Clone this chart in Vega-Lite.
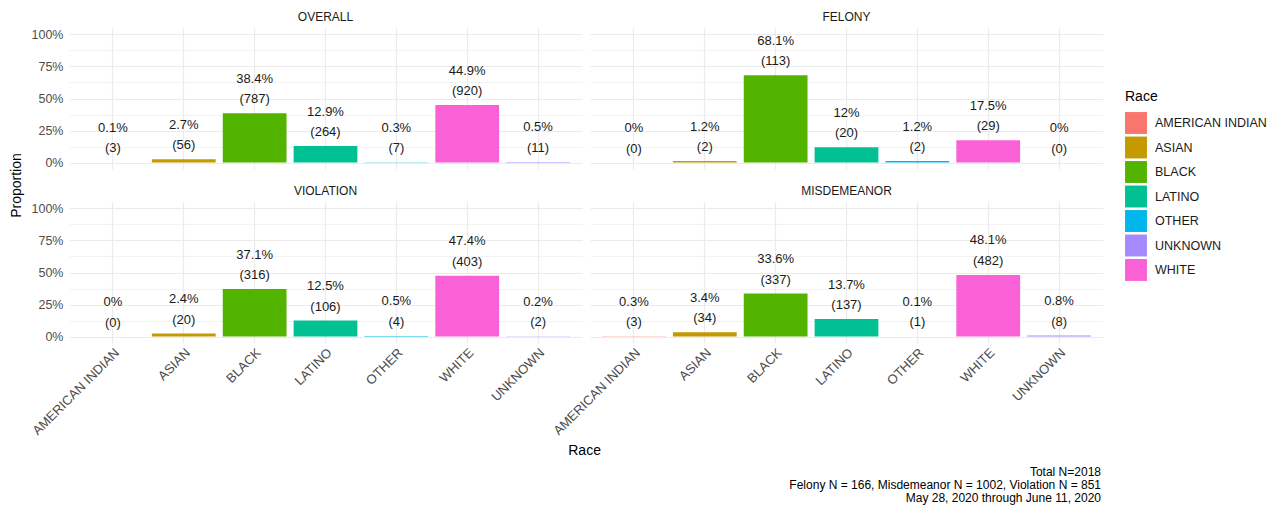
{
  "$schema": "https://vega.github.io/schema/vega-lite/v6.json",
  "background": "white",
  "padding": {"left": 9, "top": 11, "right": 5, "bottom": 5},
  "config": {
    "font": "Liberation Sans",
    "view": {"stroke": null},
    "axis": {"labelFont": "Liberation Sans", "titleFont": "Liberation Sans"},
    "concat": {"spacing": 6}
  },
  "data": {
    "values": [
      {"type": "OVERALL", "race": "AMERICAN INDIAN", "prop": 0.001, "n": 3},
      {"type": "OVERALL", "race": "ASIAN", "prop": 0.027, "n": 56},
      {"type": "OVERALL", "race": "BLACK", "prop": 0.384, "n": 787},
      {"type": "OVERALL", "race": "LATINO", "prop": 0.129, "n": 264},
      {"type": "OVERALL", "race": "OTHER", "prop": 0.003, "n": 7},
      {"type": "OVERALL", "race": "WHITE", "prop": 0.449, "n": 920},
      {"type": "OVERALL", "race": "UNKNOWN", "prop": 0.005, "n": 11},
      {"type": "FELONY", "race": "AMERICAN INDIAN", "prop": 0, "n": 0},
      {"type": "FELONY", "race": "ASIAN", "prop": 0.012, "n": 2},
      {"type": "FELONY", "race": "BLACK", "prop": 0.681, "n": 113},
      {"type": "FELONY", "race": "LATINO", "prop": 0.12, "n": 20},
      {"type": "FELONY", "race": "OTHER", "prop": 0.012, "n": 2},
      {"type": "FELONY", "race": "WHITE", "prop": 0.175, "n": 29},
      {"type": "FELONY", "race": "UNKNOWN", "prop": 0, "n": 0},
      {"type": "VIOLATION", "race": "AMERICAN INDIAN", "prop": 0, "n": 0},
      {"type": "VIOLATION", "race": "ASIAN", "prop": 0.024, "n": 20},
      {"type": "VIOLATION", "race": "BLACK", "prop": 0.371, "n": 316},
      {"type": "VIOLATION", "race": "LATINO", "prop": 0.125, "n": 106},
      {"type": "VIOLATION", "race": "OTHER", "prop": 0.005, "n": 4},
      {"type": "VIOLATION", "race": "WHITE", "prop": 0.474, "n": 403},
      {"type": "VIOLATION", "race": "UNKNOWN", "prop": 0.002, "n": 2},
      {"type": "MISDEMEANOR", "race": "AMERICAN INDIAN", "prop": 0.003, "n": 3},
      {"type": "MISDEMEANOR", "race": "ASIAN", "prop": 0.034, "n": 34},
      {"type": "MISDEMEANOR", "race": "BLACK", "prop": 0.336, "n": 337},
      {"type": "MISDEMEANOR", "race": "LATINO", "prop": 0.137, "n": 137},
      {"type": "MISDEMEANOR", "race": "OTHER", "prop": 0.001, "n": 1},
      {"type": "MISDEMEANOR", "race": "WHITE", "prop": 0.481, "n": 482},
      {"type": "MISDEMEANOR", "race": "UNKNOWN", "prop": 0.008, "n": 8}
    ]
  },
  "hconcat": [
    {
      "width": 1,
      "height": 314,
      "mark": {"type": "rule", "opacity": 0},
      "encoding": {
        "y": {
          "datum": 0,
          "type": "quantitative",
          "scale": {"domain": [0, 1]},
          "axis": {"title": "Proportion", "titleFontSize": 14, "titleFontWeight": "normal", "titleColor": "#000000", "titlePadding": 0, "labels": false, "ticks": false, "domain": false, "grid": false}
        }
      }
    },
    {
      "title": {
        "text": ["Total N=2018", "Felony N = 166, Misdemeanor N = 1002, Violation N = 851", "May 28, 2020 through June 11, 2020"],
        "orient": "bottom",
        "anchor": "end",
        "frame": "bounds",
        "fontSize": 12,
        "fontWeight": "normal",
        "lineHeight": 13,
        "color": "#000000",
        "offset": 9,
        "dx": -2
      },
      "vconcat": [
        {
          "title": {"text": "Race", "orient": "bottom", "anchor": "middle", "frame": "bounds", "fontSize": 14, "fontWeight": "normal", "color": "#000000", "offset": 7, "dx": 18},
          "transform": [
            {"calculate": "[format(datum.prop, '.1~%'), '(' + datum.n + ')']", "as": "label"}
          ],
          "facet": {
            "field": "type",
            "type": "nominal",
            "sort": ["OVERALL", "FELONY", "VIOLATION", "MISDEMEANOR"],
            "header": {"title": null, "labelFontSize": 12, "labelColor": "#1A1A1A", "labelPadding": 4, "labelFont": "Liberation Sans"}
          },
          "columns": 2,
          "spacing": {"column": 8, "row": 16},
          "spec": {
            "width": 513,
            "height": 141,
            "encoding": {
              "x": {
                "field": "race",
                "type": "nominal",
                "sort": ["AMERICAN INDIAN", "ASIAN", "BLACK", "LATINO", "OTHER", "WHITE", "UNKNOWN"],
                "scale": {"paddingInner": 0.1, "paddingOuter": 0.17},
                "axis": {
                  "title": null,
                  "labelAngle": -45,
                  "labelFontSize": 13,
                  "labelColor": "#4D4D4D",
                  "labelPadding": 3,
                  "ticks": false,
                  "domain": false,
                  "grid": true,
                  "gridColor": "#EBEBEB",
                  "gridWidth": 1.2,
                  "bandPosition": 0.5
                }
              },
              "y": {
                "field": "prop",
                "type": "quantitative",
                "scale": {"domain": [-0.05, 1.05], "nice": false, "zero": false},
                "axis": {
                  "title": null,
                  "values": [0, 0.125, 0.25, 0.375, 0.5, 0.625, 0.75, 0.875, 1],
                  "labelExpr": "(datum.value * 8) % 2 == 0 ? format(datum.value, '.0%') : ''",
                  "labelFontSize": 12.5,
                  "labelColor": "#4D4D4D",
                  "labelPadding": 6,
                  "ticks": false,
                  "domain": false,
                  "grid": true,
                  "gridColor": "#EBEBEB",
                  "gridWidth": {"condition": {"test": "(datum.value * 8) % 2 == 1", "value": 0.6}, "value": 1.2}
                }
              }
            },
            "layer": [
              {
                "mark": {"type": "bar"},
                "encoding": {
                  "y2": {"datum": 0},
                  "color": {
                    "field": "race",
                    "type": "nominal",
                    "scale": {
                      "domain": ["AMERICAN INDIAN", "ASIAN", "BLACK", "LATINO", "OTHER", "UNKNOWN", "WHITE"],
                      "range": ["#F8766D", "#C49A00", "#53B400", "#00C094", "#00B6EB", "#A58AFF", "#FB61D7"]
                    },
                    "legend": {
                      "title": "Race",
                      "orient": "none",
                      "legendX": 1102,
                      "legendY": 62,
                      "titleFontSize": 14,
                      "titleFontWeight": "normal",
                      "titleColor": "#000000",
                      "titlePadding": 8,
                      "symbolType": "square",
                      "symbolSize": 480,
                      "symbolStrokeWidth": 0,
                      "symbolOpacity": 1,
                      "labelFontSize": 12.5,
                      "labelColor": "#1A1A1A",
                      "labelOffset": 8,
                      "rowPadding": 2.5
                    }
                  }
                }
              },
              {
                "mark": {"type": "text", "baseline": "bottom", "dy": -27.5, "fontSize": 13, "lineHeight": 20.5, "color": "#1A1A1A"},
                "encoding": {
                  "text": {"field": "label"}
                }
              }
            ]
          }
        }
      ]
    }
  ]
}
